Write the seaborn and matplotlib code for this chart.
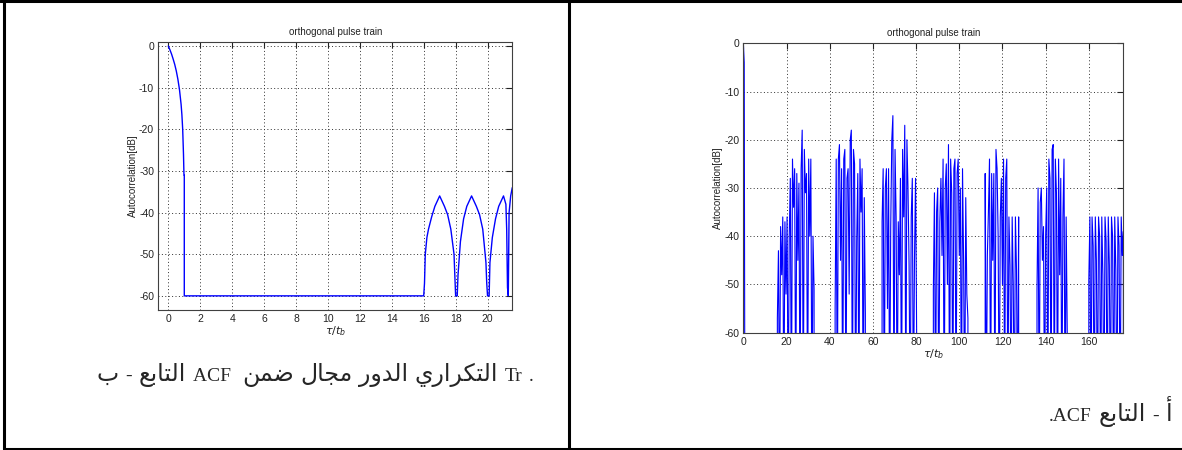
import numpy as np
import pandas as pd
import matplotlib
matplotlib.use("Agg")
import matplotlib.pyplot as plt
from matplotlib.lines import Line2D
import seaborn as sns

# ---- left panel: ACF within one repetition period (tau/tb 0..21.5)
tr_tau = [0, 0.1, 0.2, 0.3, 0.4, 0.5, 0.6, 0.7, 0.8, 0.85, 0.9, 0.95, 0.98, 1.0, 1.0,
          16.0, 16.05, 16.1, 16.2, 16.3, 16.5, 16.7, 17.0, 17.3, 17.5, 17.7, 17.9, 17.95,
          18.0, 18.1, 18.15, 18.3, 18.5, 18.7, 19.0, 19.3, 19.5, 19.7, 19.9, 19.95,
          20.0, 20.1, 20.15, 20.3, 20.5, 20.7, 21.0, 21.15, 21.2, 21.25, 21.3, 21.35, 21.45, 21.55]
tr_db = [0, -0.9, -1.9, -3.1, -4.4, -6.0, -8.0, -10.5, -14, -16.5, -20, -26, -31, -31, -60,
         -60, -57, -50, -46, -44, -41, -38.5, -36, -38.5, -40.5, -44, -50, -55,
         -60, -60, -55, -47, -41.5, -38.5, -36, -38.5, -40.5, -44, -52, -57,
         -60, -60, -52, -46, -41.5, -38.5, -36, -38, -44, -58, -60, -40, -36, -34]

# ---- right panel: full ACF (tau/tb 0..176), bursts sampled every 0.5 tau/tb
main_tau = [0, 0.4, 0.7]
main_db = [0, -4, -80]
burst_start = [15.75, 42.5, 64.25, 88.0, 112.0, 136.0, 160.0]
burst_db = [
    [-57, -43, -80, -38, -48, -36, -80, -37, -52, -36, -80, -40, -28, -80, -24, -34, -26, -80,
     -27, -45, -29, -80, -26, -18, -80, -22, -31, -27, -80, -24, -40, -24, -80, -40, -51],
    [-55, -24, -80, -24, -21, -45, -26, -80, -24, -22, -80, -28, -26, -52, -20, -18, -80, -22,
     -25, -80, -41, -27, -80, -24, -35, -26, -80, -32, -56],
    [-37, -26, -80, -30, -26, -55, -26, -80, -38, -20, -15, -80, -22, -36, -80, -37, -48, -28,
     -80, -22, -36, -17, -80, -20, -30, -46, -80, -36, -28, -80, -45, -28, -60],
    [-51, -31, -80, -35, -30, -80, -37, -28, -44, -24, -80, -30, -25, -50, -21, -80, -24, -31,
     -80, -26, -24, -80, -27, -24, -44, -30, -80, -26, -45, -80, -32, -52, -57],
    [-27, -80, -44, -35, -24, -80, -27, -45, -27, -80, -22, -26, -40, -80, -36, -28, -50, -24,
     -80, -28, -24, -80, -36, -46, -80, -36, -50, -80, -36, -47, -80, -36],
    [-51, -30, -80, -33, -30, -45, -38, -80, -40, -30, -80, -24, -28, -80, -22, -21, -80, -24,
     -31, -80, -24, -48, -28, -80, -36, -24, -80, -36, -60],
    [-49, -36, -80, -36, -42, -80, -36, -45, -80, -36, -40, -80, -36, -48, -80, -36, -41, -80,
     -36, -46, -80, -36, -40, -80, -36, -47, -80, -36, -42, -80, -36, -44, -39],
]

# captions, as tokens in left-to-right display order (True = Arabic word)
caption_left = [("ب", True), ("-", False), ("التابع", True), ("ACF ", False), ("ضمن", True),
                ("مجال", True), ("الدور", True), ("التكراري", True), ("Tr", False), (".", False)]
caption_right = [(".ACF", False), ("التابع", True), ("-", False), ("أ", True)]

# Arabic presentation forms: (isolated, final, initial, medial)
FORMS = {
    "\u0627": (0xFE8D, 0xFE8E, None, None), "\u0623": (0xFE83, 0xFE84, None, None),
    "\u0628": (0xFE8F, 0xFE90, 0xFE91, 0xFE92), "\u062A": (0xFE95, 0xFE96, 0xFE97, 0xFE98),
    "\u062C": (0xFE9D, 0xFE9E, 0xFE9F, 0xFEA0), "\u062F": (0xFEA9, 0xFEAA, None, None),
    "\u0631": (0xFEAD, 0xFEAE, None, None), "\u0636": (0xFEBD, 0xFEBE, 0xFEBF, 0xFEC0),
    "\u0639": (0xFEC9, 0xFECA, 0xFECB, 0xFECC), "\u0643": (0xFED9, 0xFEDA, 0xFEDB, 0xFEDC),
    "\u0644": (0xFEDD, 0xFEDE, 0xFEDF, 0xFEE0), "\u0645": (0xFEE1, 0xFEE2, 0xFEE3, 0xFEE4),
    "\u0646": (0xFEE5, 0xFEE6, 0xFEE7, 0xFEE8), "\u0648": (0xFEED, 0xFEEE, None, None),
    "\u064A": (0xFEF1, 0xFEF2, 0xFEF3, 0xFEF4),
}


def shape_word(word):
    # join letters and put them in visual (right-to-left) order
    out = []
    for i, ch in enumerate(word):
        prev = word[i - 1] if i > 0 else ""
        nxt = word[i + 1] if i + 1 < len(word) else ""
        join_prev = prev in FORMS and FORMS[prev][2] is not None
        join_next = nxt in FORMS and FORMS[ch][2] is not None
        iso, fin, ini, med = FORMS[ch]
        if join_prev and join_next:
            code = med
        elif join_prev:
            code = fin
        elif join_next:
            code = ini
        else:
            code = iso
        out.append(chr(code))
    return "".join(out[::-1])


W, H = 1182, 450


def place_caption(fig, tokens, x, y, align="left", gap=6.5):
    # lay the words out one after another, Arabic a little larger than Latin
    r = fig.canvas.get_renderer()
    arts = []
    for txt, arabic in tokens:
        if arabic:
            t = fig.text(0, 1 - y / H, shape_word(txt), fontsize=17, family="DejaVu Sans",
                         va="baseline")
        else:
            t = fig.text(0, 1 - y / H, txt, fontsize=14, family="Liberation Serif",
                         va="baseline")
        arts.append(t)
    widths = [a.get_window_extent(r).width for a in arts]
    total = sum(widths) + gap * (len(arts) - 1)
    cur = x if align == "left" else x - total
    for a, w in zip(arts, widths):
        a.set_x(cur / W)
        cur += w + gap


sns.set_style("white")
plt.rcParams["font.family"] = ["Liberation Sans", "DejaVu Sans"]
plt.rcParams["axes.unicode_minus"] = False

fig = plt.figure(figsize=(11.82, 4.5), dpi=100)
ax1 = fig.add_axes([0.1339, 0.3111, 0.2995, 0.5949])
ax2 = fig.add_axes([0.6289, 0.2607, 0.3215, 0.6431])

left_df = pd.DataFrame({"tau": tr_tau, "acf": tr_db})
sns.lineplot(data=left_df, x="tau", y="acf", sort=False, estimator=None,
             color="#0000ff", lw=1.0, ax=ax1)

xs, ys = list(main_tau), list(main_db)
for start, vals in zip(burst_start, burst_db):
    bx = start + 0.5 * np.arange(len(vals))
    xs.extend([start - 0.01, *bx, bx[-1] + 0.01])
    ys.extend([-80, *vals, -80])
right_df = pd.DataFrame({"tau": xs, "acf": ys})
sns.lineplot(data=right_df, x="tau", y="acf", sort=False, estimator=None,
             color="#0000ff", lw=0.8, ax=ax2)

ax1.set_xlim(-0.63, 21.55)
ax1.set_ylim(-63.4, 0.9)
ax1.set_xticks(np.arange(0, 21, 2))
ax1.set_yticks(np.arange(-60, 1, 10))
ax2.set_xlim(0, 176)
ax2.set_ylim(-60, 0)
ax2.set_xticks(np.arange(0, 161, 20))
ax2.set_yticks(np.arange(-60, 1, 10))

for ax in (ax1, ax2):
    ax.grid(True, color="#303030", linestyle=(0, (1, 2.5)), lw=0.7)
    ax.tick_params(direction="in", length=4, labelsize=7.5, colors="#222222",
                   top=True, right=True, pad=3)
    for sp in ax.spines.values():
        sp.set_color("#404040")
        sp.set_linewidth(0.8)
        sp.set_visible(True)
    ax.set_title("orthogonal pulse train", fontsize=7, pad=5, color="#222222")
    ax.set_xlabel(r"$\tau/t_b$", fontsize=8, labelpad=0, color="#222222")
    ax.set_ylabel("Autocorrelation[dB]", fontsize=7, labelpad=1, color="#222222")

place_caption(fig, caption_left, 97, 381, align="left")
place_caption(fig, caption_right, 1172, 421, align="right")

# table borders
for (x0, y0, x1, y1) in [(0, 1, W, 1), (3.5, 0, 3.5, 449), (569, 0, 569, 449), (3.5, 448.5, W, 448.5)]:
    fig.add_artist(Line2D([x0 / W, x1 / W], [1 - y0 / H, 1 - y1 / H], color="black", lw=2.2))

fig.savefig("out.png", dpi=100)
